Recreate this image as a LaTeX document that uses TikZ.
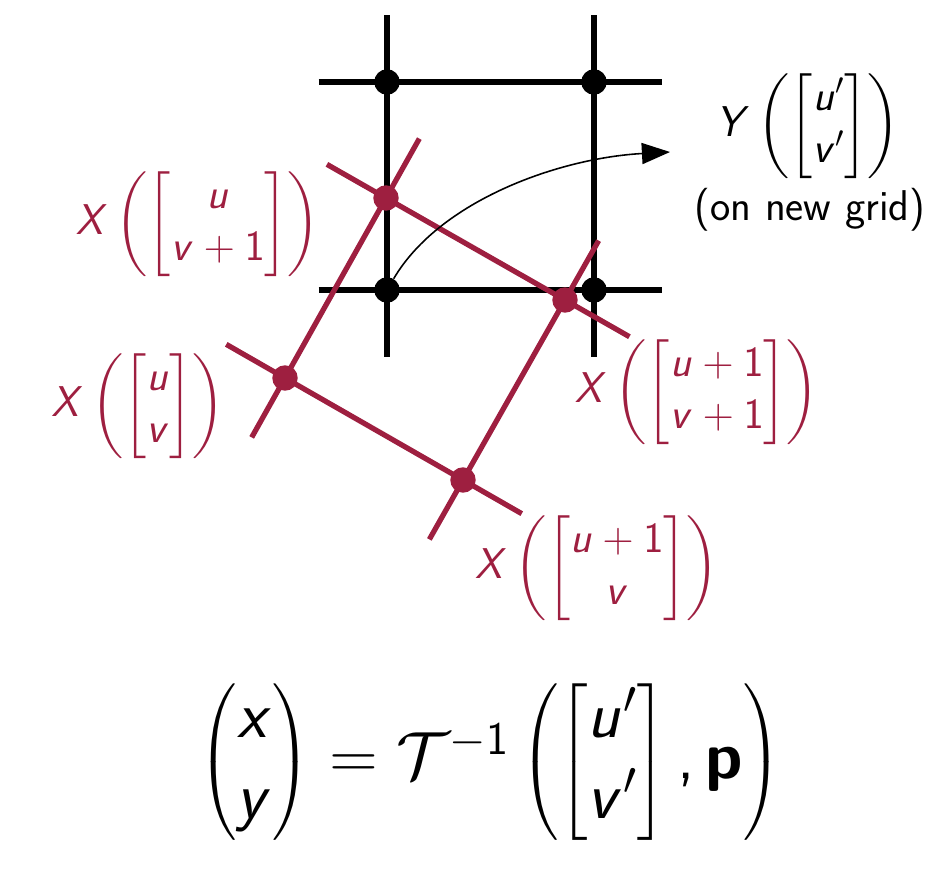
\RequirePackage{fix-cm}
\documentclass[tikz,border=0pt]{standalone}
\usepackage{amsmath}
\renewcommand{\familydefault}{\sfdefault}
% sans math, slide style
\SetSymbolFont{operators}{normal}{OT1}{cmss}{m}{n}
\SetSymbolFont{letters}{normal}{OT1}{cmss}{m}{sl}
\SetMathAlphabet{\mathbf}{normal}{OT1}{cmss}{bx}{n}
\DeclareMathSymbol{,}{\mathpunct}{operators}{"2C}
\usetikzlibrary{calc, arrows.meta, backgrounds}
\definecolor{gridred}{RGB}{158,31,64}

\begin{document}
\begin{tikzpicture}[x=0.02cm, y=-0.02cm,
    gridline/.style={line width=3pt},
    redline/.style={line width=3pt, gridred},
    bdot/.style={circle, fill=black, inner sep=0pt, minimum size=14.5pt},
    rdot/.style={circle, fill=gridred, inner sep=0pt, minimum size=14.5pt},
    lab/.style={text=gridred, font=\fontsize{24.5}{30}\selectfont},
    ]
    \useasboundingbox (0,0) rectangle (952,876);

    % new grid (black)
    \node[bdot] (TL) at (387,82) {};
    \node[bdot] (TR) at (594,82) {};
    \node[bdot] (BL) at (387,290) {};
    \node[bdot] (BR) at (594,290) {};

    % sampled grid (red)
    \node[rdot] (A) at (285,378) {};
    \node[rdot] (B) at (386,198) {};
    \node[rdot] (C) at (565,300) {};
    \node[rdot] (D) at (463,480) {};

    \begin{scope}[on background layer]
        \draw[gridline] ($(TL)!-0.32!(BL)$) -- ($(BL)!-0.32!(TL)$);
        \draw[gridline] ($(TR)!-0.32!(BR)$) -- ($(BR)!-0.32!(TR)$);
        \draw[gridline] ($(TL)!-0.33!(TR)$) -- ($(TR)!-0.33!(TL)$);
        \draw[gridline] ($(BL)!-0.33!(BR)$) -- ($(BR)!-0.33!(BL)$);
        \draw[redline] ($(A)!-0.33!(B)$) -- ($(B)!-0.33!(A)$);
        \draw[redline] ($(D)!-0.33!(C)$) -- ($(C)!-0.33!(D)$);
        \draw[redline] ($(B)!-0.33!(C)$) -- ($(C)!-0.36!(B)$);
        \draw[redline] ($(A)!-0.33!(D)$) -- ($(D)!-0.33!(A)$);
    \end{scope}

    \node[lab] (labUV1) at (198,224) {$X\left(\begin{bmatrix} u\\ v+1\end{bmatrix}\right)$};
    \node[lab] (labUV) at (138,406) {$X\left(\begin{bmatrix} u\\ v\end{bmatrix}\right)$};
    \node[lab] (labU1V1) at (697,392) {$X\left(\begin{bmatrix} u+1\\ v+1\end{bmatrix}\right)$};
    \node[lab] (labU1V) at (597,568) {$X\left(\begin{bmatrix} u+1\\ v\end{bmatrix}\right)$};

    \node[lab, text=black] (labY) at (808,126) {$Y\left(\begin{bmatrix} u'\\ v'\end{bmatrix}\right)$};
    \node[lab, text=black] (labGrid) at (810,210) {(on new grid)};

    \coordinate (tip) at (670,152);
    \draw[-{Triangle[length=16pt, width=12pt]}, line width=0.9pt]
        (BL) .. controls (440,200) and (560,158) .. (tip);

    \node[font=\fontsize{38}{46}\selectfont] (formula) at (490,762)
        {$\begin{pmatrix} x\\ y\end{pmatrix} = \mathcal{T}^{-1}\left(\begin{bmatrix} u'\\ v'\end{bmatrix},\mathbf{p}\right)$};
\end{tikzpicture}
\end{document}
